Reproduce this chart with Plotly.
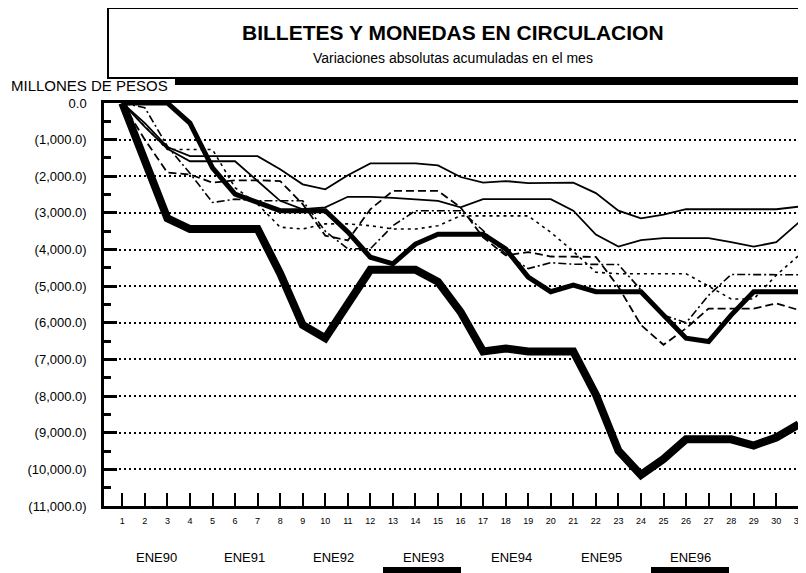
import plotly.graph_objects as go

# ---------------- data ----------------
days = list(range(1, 32))
series_names = ["ENE90", "ENE91", "ENE92", "ENE93", "ENE94", "ENE95", "ENE96"]

ene90 = [0, -550, -1200, -1450, -1450, -1450, -1450, -1810, -2220, -2355, -1970, -1650, -1650, -1650, -1705,
         -2020, -2175, -2130, -2185, -2185, -2175, -2460, -2940, -3150, -3050, -2900, -2900, -2900, -2900, -2900, -2830]
ene91 = [0, -650, -1250, -1590, -1590, -1590, -2130, -2670, -2900, -2850, -2560, -2560, -2590, -2635, -2670,
         -2850, -2625, -2625, -2625, -2625, -2940, -3590, -3920, -3740, -3690, -3690, -3690, -3800, -3920, -3800, -3260]
ene92 = [0, -1000, -1900, -1950, -2175, -2110, -2110, -2130, -2760, -3620, -3750, -2900, -2400, -2400, -2400,
         -2850, -3665, -4160, -4070, -4190, -4200, -4200, -5020, -6060, -6600, -6150, -5610, -5610, -5610, -5470, -5650]
ene93 = [0, 0, 0, -550, -1770, -2490, -2720, -2940, -2940, -2940, -3520, -4210, -4390, -3850, -3580,
         -3580, -3580, -3980, -4750, -5150, -4970, -5150, -5150, -5150, -5790, -6420, -6510, -5790, -5150, -5150, -5150]
ene94 = [0, -130, -1180, -1920, -2715, -2625, -2670, -2670, -2670, -3500, -3980, -3980, -3350, -2940, -2940,
         -2940, -3480, -4120, -4520, -4360, -4400, -4410, -4410, -5100, -5790, -6000, -5250, -4680, -4680, -4680, -4690]
ene95 = [0, -650, -1270, -1270, -1270, -2310, -2760, -3390, -3440, -3300, -3300, -3350, -3440, -3440, -3350,
         -3080, -3080, -3080, -3080, -3530, -4050, -4620, -4660, -4660, -4660, -4660, -5000, -5350, -5350, -4700, -4160]
ene96 = [0, -1600, -3150, -3440, -3440, -3440, -3440, -4650, -6060, -6420, -5450, -4550, -4550, -4550, -4880,
         -5700, -6780, -6700, -6780, -6780, -6780, -7960, -9490, -10150, -9720, -9180, -9180, -9180, -9350, -9130, -8770]

y_tick_vals = [0, -1000, -2000, -3000, -4000, -5000, -6000, -7000, -8000, -9000, -10000, -11000]
y_tick_text = ["0.0", "(1,000.0)", "(2,000.0)", "(3,000.0)", "(4,000.0)", "(5,000.0)", "(6,000.0)",
               "(7,000.0)", "(8,000.0)", "(9,000.0)", "(10,000.0)", "(11,000.0)"]

title_text = "BILLETES Y MONEDAS EN CIRCULACION"
subtitle_text = "Variaciones absolutas acumuladas en el mes"
unit_text = "MILLONES DE PESOS"

# ---------------- geometry helpers ----------------
OFF = 8                      # page body margin in the browser
W, H = 806, 573
L, R, T, B = 96, 0, 95, 75   # figure-space margins
PW, PH = W - L - R, H - T - B
STEP = 22.55                 # px per day


def px(xs):
    """screen x -> paper x"""
    return (xs - OFF - L) / PW


def py(ys):
    """screen y -> paper y"""
    return (H - B - (ys - OFF)) / PH


SANS = "Liberation Sans, Arial, sans-serif"

styles = {
    "ENE90": dict(width=1.8, dash="solid"),
    "ENE91": dict(width=1.8, dash="solid"),
    "ENE92": dict(width=1.8, dash="8px,4px"),
    "ENE93": dict(width=5, dash="solid"),
    "ENE94": dict(width=1.6, dash="8px,3px,2px,3px"),
    "ENE95": dict(width=1.6, dash="3px,4px"),
    "ENE96": dict(width=8, dash="solid"),
}
values = {"ENE90": ene90, "ENE91": ene91, "ENE92": ene92, "ENE93": ene93,
          "ENE94": ene94, "ENE95": ene95, "ENE96": ene96}

fig = go.Figure()
for name in series_names:
    st = styles[name]
    fig.add_trace(go.Scatter(
        x=days, y=values[name], mode="lines", name=name,
        line=dict(color="black", width=st["width"], dash=st["dash"]),
        cliponaxis=False, showlegend=False,
    ))

x_left = 1 - (122.3 - 104) / STEP
fig.update_layout(
    width=W, height=H,
    margin=dict(l=L, r=R, t=T, b=B, pad=0),
    paper_bgcolor="white", plot_bgcolor="white",
    font=dict(family=SANS, color="black"),
    xaxis=dict(
        range=[x_left, x_left + PW / STEP],
        tickmode="array", tickvals=days, ticktext=[str(d) for d in days],
        ticks="inside", ticklen=13, tickwidth=2, tickcolor="black",
        showgrid=False, zeroline=False,
        showline=True, linecolor="black", linewidth=2.5, mirror=True,
        tickfont=dict(family=SANS, size=9, color="black"),
        ticklabelstandoff=4,
    ),
    yaxis=dict(
        range=[-11000, 0],
        tickmode="array", tickvals=y_tick_vals, ticktext=y_tick_text,
        ticks="inside", ticklen=13, tickwidth=2.5, tickcolor="black",
        minor=dict(dtick=500, tick0=500, ticks="inside", ticklen=7, tickwidth=2.5,
                   tickcolor="black", showgrid=False),
        showgrid=True, gridcolor="black", gridwidth=2, griddash="2px,3px",
        zeroline=False,
        showline=True, linecolor="black", linewidth=2.5,
        tickfont=dict(family=SANS, size=13, color="black"),
        ticklabelstandoff=12,
    ),
)

shapes = []
# title box and its shadow
shapes.append(dict(type="rect", xref="paper", yref="paper",
                   x0=px(108), x1=px(830), y0=py(78), y1=py(8),
                   line=dict(color="black", width=2), fillcolor="white", layer="below"))
shapes.append(dict(type="rect", xref="paper", yref="paper",
                   x0=px(175), x1=px(830), y0=py(85), y1=py(78),
                   line=dict(width=0), fillcolor="black", layer="above"))
# legend line samples (only their tops are visible at the bottom edge)
for cx0, cx1 in [(383, 461), (651, 729)]:
    shapes.append(dict(type="rect", xref="paper", yref="paper",
                       x0=px(cx0), x1=px(cx1), y0=py(585), y1=py(567),
                       line=dict(width=0), fillcolor="black"))
fig.update_layout(shapes=shapes)

annotations = [
    dict(text="<b>" + title_text + "</b>", x=px(453), y=py(32), xref="paper", yref="paper",
         showarrow=False, xanchor="center", yanchor="middle",
         font=dict(family=SANS, size=21, color="black")),
    dict(text=subtitle_text, x=px(453), y=py(58), xref="paper", yref="paper",
         showarrow=False, xanchor="center", yanchor="middle",
         font=dict(family=SANS, size=14, color="black")),
    dict(text=unit_text, x=px(9), y=py(86), xref="paper", yref="paper",
         showarrow=False, xanchor="left", yanchor="middle",
         font=dict(family=SANS, size=15, color="black")),
]
legend_x = [156, 244, 333, 423, 511, 601, 690]
for name, lx in zip(series_names, legend_x):
    annotations.append(dict(text=name, x=px(lx), y=py(557), xref="paper", yref="paper",
                            showarrow=False, xanchor="center", yanchor="middle",
                            font=dict(family=SANS, size=13, color="black")))
fig.update_layout(annotations=annotations)

fig.write_html("out.html")
